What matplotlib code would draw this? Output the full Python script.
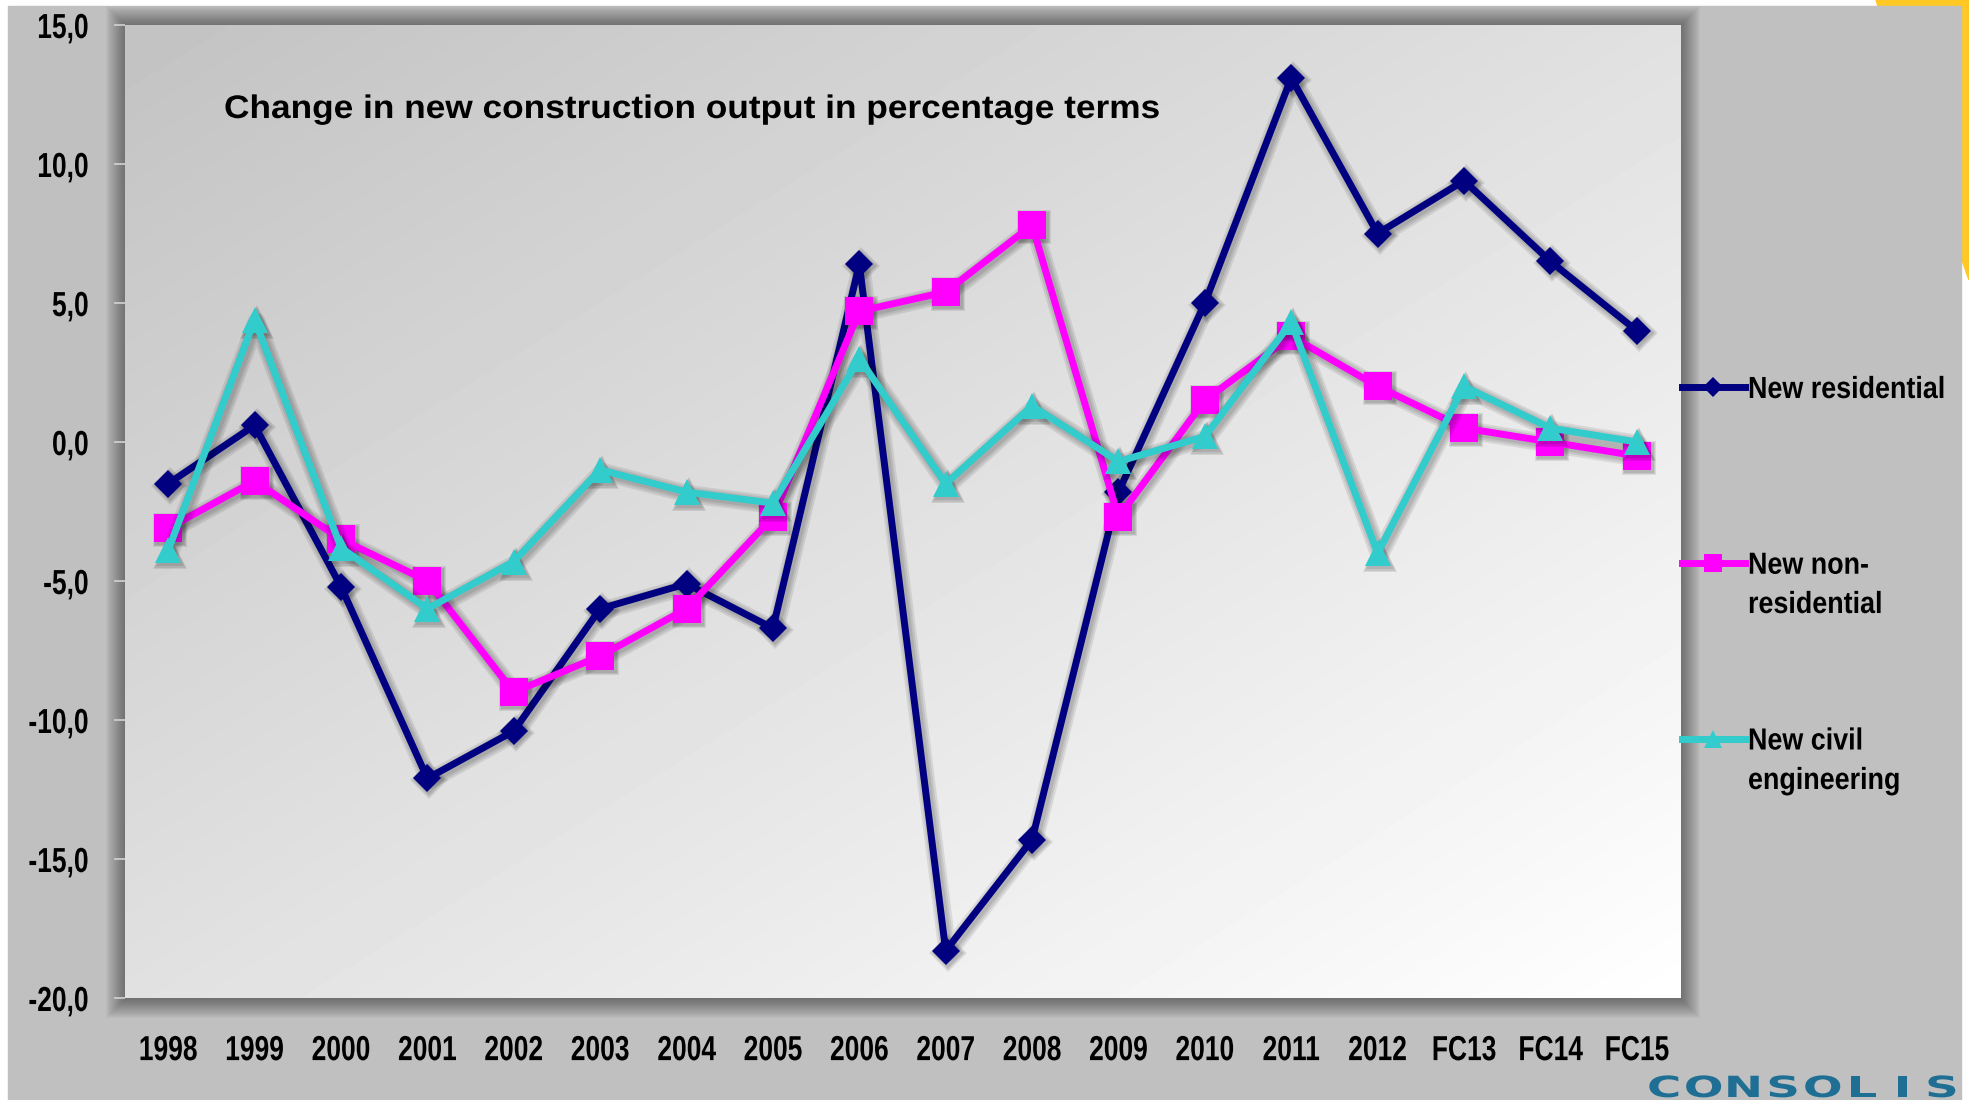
import numpy as np
import matplotlib.pyplot as plt
from matplotlib.patches import Rectangle, Polygon
from matplotlib.transforms import Affine2D, offset_copy
import matplotlib.patheffects as pe

# data
years = ['1998', '1999', '2000', '2001', '2002', '2003', '2004', '2005', '2006',
         '2007', '2008', '2009', '2010', '2011', '2012', 'FC13', 'FC14', 'FC15']
residential = [-1.5, 0.6, -5.2, -12.1, -10.4, -6.0, -5.1, -6.7, 6.4,
               -18.3, -14.3, -1.8, 5.0, 13.1, 7.5, 9.4, 6.5, 4.0]
non_residential = [-3.1, -1.4, -3.5, -5.0, -9.0, -7.7, -6.0, -2.7, 4.7,
                   5.4, 7.8, -2.7, 1.5, 3.8, 2.0, 0.5, 0.0, -0.5]
civil = [-3.9, 4.4, -3.8, -6.0, -4.3, -1.0, -1.8, -2.2, 3.0,
         -1.5, 1.3, -0.7, 0.2, 4.3, -4.0, 2.0, 0.5, 0.0]
y_ticks = [15, 10, 5, 0, -5, -10, -15, -20]

W, H = 1969, 1100
sans = ['Liberation Sans', 'DejaVu Sans']


def fx(px):
    return px / W


def fy(py):
    return 1 - py / H


class Squeeze(pe.AbstractPathEffect):
    # squeeze / stretch glyphs horizontally (fake narrow font)
    def __init__(self, sx, anchor='left'):
        super().__init__()
        self.sx = sx
        self.anchor = anchor

    def draw_path(self, renderer, gc, tpath, affine, rgbFace=None):
        ext = tpath.get_extents()
        cx = {'left': 0, 'right': ext.x1, 'center': (ext.x0 + ext.x1) / 2}[self.anchor]
        t = Affine2D().translate(-cx, 0).scale(self.sx, 1).translate(cx, 0)
        renderer.draw_path(gc, tpath, t + affine, rgbFace)


fig = plt.figure(figsize=(W / 100, H / 100), dpi=100, facecolor='white')

# yellow arc peeking out top right
fig.patches.append(Polygon([(fx(1876), fy(0)), (fx(1969), fy(0)), (fx(1969), fy(280)),
                            (fx(1955), fy(240)), (fx(1925), fy(150)), (fx(1895), fy(60))],
                           closed=True, transform=fig.transFigure, color='#FFC825', zorder=-5))
# grey slide background
fig.patches.append(Rectangle((fx(8), 0), fx(1961) - fx(8), fy(6), transform=fig.transFigure,
                             color='#C0C0C0', zorder=-4))

left, right, top, bottom = 125, 1680, 25, 998
ax = fig.add_axes([fx(left), fy(bottom), fx(right) - fx(left), fy(top) - fy(bottom)])

# soft shadow around the plot area
for k in range(1, 21):
    fig.patches.append(Rectangle((fx(left - k + 1), fy(bottom + k)), fx(right + k) - fx(left - k + 1),
                                 fy(top - k + 1) - fy(bottom + k), transform=fig.transFigure,
                                 color='black', alpha=0.024, zorder=-3, lw=0))

# diagonal gradient face
gx, gy = np.meshgrid(np.linspace(0, 1, 300), np.linspace(0, 1, 200))
grad = 0.5 * gx + 0.5 * gy
ax.imshow(grad, extent=[0, 1, 0, 1], transform=ax.transAxes, aspect='auto',
          cmap='gray', vmin=-3.2, vmax=1.0, origin='upper', zorder=0, interpolation='bilinear')
ax.patch.set_alpha(0)

x = np.arange(len(years))
series = [
    (residential, '#000080', 'D', 14, 'New residential'),
    (non_residential, '#FF00FF', 's', 19.5, 'New non-'),
    (civil, '#33CCCC', '^', 19, 'New civil'),
]
lw = 5
shadow_tr = offset_copy(ax.transData, fig=fig, x=2, y=-2, units='dots')
for i, (vals, col, mk, ms, lab) in enumerate(series):
    # blurred drop shadow
    for k in (2, 5, 8):
        ax.plot(x, vals, color='black', alpha=0.085, lw=lw + k, marker=mk, ms=ms + k * 0.7,
                mew=0, solid_capstyle='round', solid_joinstyle='round',
                transform=shadow_tr, zorder=2 + i)
    ax.plot(x, vals, color=col, lw=lw, marker=mk, ms=ms, mew=0, zorder=2.5 + i, label=lab)

ax.set_xlim(-0.5, len(years) - 0.5)
ax.set_ylim(-20, 15)
ax.set_xticks(x)
ax.set_xticklabels(years)
ax.set_yticks(y_ticks)
ax.set_yticklabels([f'{v:.1f}'.replace('.', ',') for v in y_ticks])
for s in ax.spines.values():
    s.set_visible(False)
ax.tick_params(axis='x', length=0, pad=26)
ax.tick_params(axis='y', length=8, color='#d2d2d2', width=1.2, pad=18)
for lab in ax.get_xticklabels():
    lab.set_family(sans)
    lab.set_fontweight('bold')
    lab.set_fontsize(25)
    lab.set_path_effects([Squeeze(0.76, 'center')])
for lab in ax.get_yticklabels():
    lab.set_family(sans)
    lab.set_fontweight('bold')
    lab.set_fontsize(25)
    lab.set_path_effects([Squeeze(0.76, 'right')])

fig.text(fx(224), fy(118), 'Change in new construction output in percentage terms',
         fontsize=23.5, fontweight='bold', family=sans, va='baseline', ha='left',
         path_effects=[Squeeze(1.08, 'left')])

# legend to the right of the plot
leg = fig.legend(loc='upper left', bbox_to_anchor=(fx(1682), fy(375)), frameon=False,
                 prop={'family': sans, 'weight': 'bold', 'size': 22},
                 handlelength=2.06, handletextpad=0.1, labelspacing=4.77, borderaxespad=0,
                 borderpad=0, markerscale=0.7)
for t in leg.get_texts():
    t.set_path_effects([Squeeze(0.88, 'left')])
for txt, yb in (('residential', 613), ('engineering', 789)):
    fig.text(fx(1748), fy(yb), txt, fontsize=22, fontweight='bold', family=sans,
             va='baseline', ha='left', path_effects=[Squeeze(0.88, 'left')])

# logo
logo = 'CONSOLIS'
for i, ch in enumerate(logo):
    fig.text(fx(1664 + i * 39.7), fy(1097), ch, color='#1F6E94', fontsize=21, fontweight='heavy',
             family='DejaVu Sans', ha='center', va='baseline',
             path_effects=[Squeeze(1.6, 'center')])

fig.savefig('out.png', dpi=100, facecolor='white')
